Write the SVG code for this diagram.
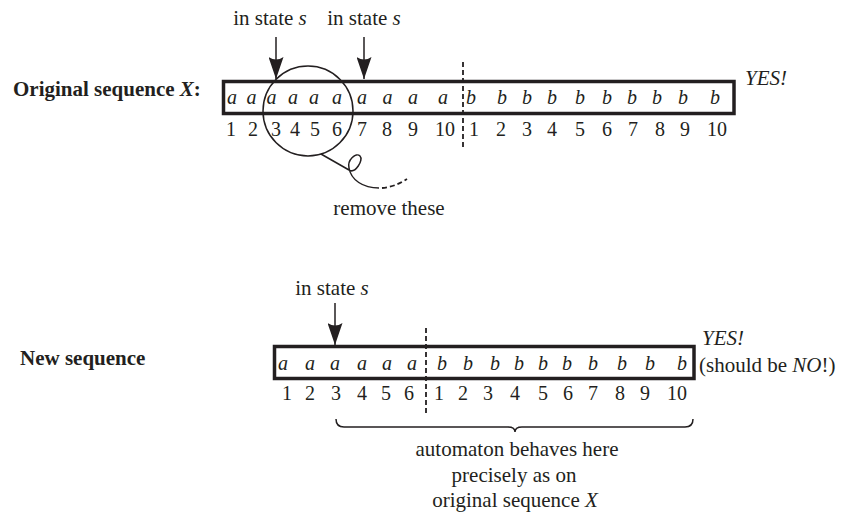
<svg xmlns="http://www.w3.org/2000/svg" width="851" height="513" viewBox="0 0 851 513">
<style>
text{font-family:"Liberation Serif","Times New Roman",serif;font-size:20px;fill:#231f20}
.c{text-anchor:middle}
.i{font-style:italic}
.b{font-weight:bold;font-size:21px}
.lbl{font-size:21px}
.box{fill:none;stroke:#231f20;stroke-width:3.5}
.ln{fill:none;stroke:#231f20;stroke-width:1.5}
.dash{fill:none;stroke:#231f20;stroke-width:1.8;stroke-dasharray:5 3}
</style>
<defs>
<marker id="ah" viewBox="0 0 22 15" refX="22" refY="7.5" markerWidth="22" markerHeight="15" markerUnits="userSpaceOnUse" orient="auto">
<path d="M0,0 L22,7.5 L0,15 Q5,7.5 0,0 Z" fill="#231f20"/>
</marker>
</defs>

<g id="top-label"><text class="b" x="13" y="96">Original sequence <tspan font-style="italic">X</tspan>:</text></g>

<g id="top-sequence">
<rect class="box" x="223.5" y="81.5" width="510.5" height="32"/>
<g class="i c">
<text x="232" y="104">a</text><text x="251.5" y="104">a</text><text x="271.5" y="104">a</text><text x="293" y="104">a</text><text x="314" y="104">a</text><text x="337" y="104">a</text><text x="362" y="104">a</text><text x="387.5" y="104">a</text><text x="413" y="104">a</text><text x="443" y="104">a</text>
<text x="471" y="104">b</text><text x="502" y="104">b</text><text x="527" y="104">b</text><text x="552" y="104">b</text><text x="580" y="104">b</text><text x="607" y="104">b</text><text x="632" y="104">b</text><text x="657" y="104">b</text><text x="683" y="104">b</text><text x="715" y="104">b</text>
</g>
<g class="c">
<text x="231" y="136">1</text><text x="253" y="136">2</text><text x="276" y="136">3</text><text x="295" y="136">4</text><text x="315" y="136">5</text><text x="337" y="136">6</text><text x="362" y="136">7</text><text x="387" y="136">8</text><text x="413" y="136">9</text><text x="445" y="136">10</text>
<text x="474" y="136">1</text><text x="501" y="136">2</text><text x="527" y="136">3</text><text x="552" y="136">4</text><text x="580" y="136">5</text><text x="607" y="136">6</text><text x="633" y="136">7</text><text x="660" y="136">8</text><text x="685" y="136">9</text><text x="717" y="136">10</text>
</g>
</g>

<g id="top-yes"><text class="i lbl" x="745" y="85">YES!</text></g>

<g id="top-state1"><text class="c lbl" x="270" y="25">in state <tspan font-style="italic">s</tspan></text></g>
<g id="top-state2"><text class="c lbl" x="364" y="25">in state <tspan font-style="italic">s</tspan></text></g>

<g id="remove-circle">
<circle class="ln" cx="308" cy="111" r="45"/>
<path class="ln" d="M321,154 L349,170 C355,174 364,160 360,156 C356,152 347,160 349,168 C351,180 363,188 379,188"/>
<path class="dash" d="M382,188 Q395,187 407,179"/>
</g>
<g id="remove-label"><text class="c lbl" x="389" y="215">remove these</text></g>

<g id="bottom-label"><text class="b" x="20" y="365">New sequence</text></g>

<g id="bottom-sequence">
<rect class="box" x="274.5" y="346.5" width="419.5" height="32"/>
<g class="i c">
<text x="283" y="370">a</text><text x="310" y="370">a</text><text x="335" y="370">a</text><text x="362" y="370">a</text><text x="387" y="370">a</text><text x="412" y="370">a</text>
<text x="442" y="370">b</text><text x="468" y="370">b</text><text x="495" y="370">b</text><text x="519" y="370">b</text><text x="543" y="370">b</text><text x="567" y="370">b</text><text x="593" y="370">b</text><text x="622" y="370">b</text><text x="650" y="370">b</text><text x="682" y="370">b</text>
</g>
<g class="c">
<text x="287" y="400">1</text><text x="310" y="400">2</text><text x="336" y="400">3</text><text x="362" y="400">4</text><text x="386" y="400">5</text><text x="409" y="400">6</text>
<text x="439" y="400">1</text><text x="463" y="400">2</text><text x="488" y="400">3</text><text x="515" y="400">4</text><text x="543" y="400">5</text><text x="568" y="400">6</text><text x="593" y="400">7</text><text x="620" y="400">8</text><text x="645" y="400">9</text><text x="677" y="400">10</text>
</g>
</g>

<g id="bottom-yes">
<text class="i lbl" x="702" y="345">YES!</text>
<text class="lbl" x="699" y="372">(should be <tspan font-style="italic">NO</tspan>!)</text>
</g>

<g id="bottom-state"><text class="c lbl" x="332" y="295">in state <tspan font-style="italic">s</tspan></text></g>

<g id="brace-label">
<text class="c lbl" x="517" y="456">automaton behaves here</text>
<text class="c lbl" x="514" y="482">precisely as on</text>
<text class="c lbl" x="515" y="507">original sequence <tspan font-style="italic">X</tspan></text>
</g>

<g id="connectors">
<line class="ln" x1="276" y1="37" x2="276" y2="79" marker-end="url(#ah)"/>
<line class="ln" x1="364" y1="37" x2="364" y2="79" marker-end="url(#ah)"/>
<line class="ln" x1="335" y1="303" x2="335" y2="345" marker-end="url(#ah)"/>
<line class="dash" x1="463" y1="62" x2="463" y2="147"/>
<line class="dash" x1="426" y1="328" x2="426" y2="413"/>
<path class="ln" stroke-width="1.8" d="M336,419 Q336,427 344,427 L508,427 Q515,427 515,432 Q515,427 522,427 L685,427 Q693,427 693,419"/>
</g>
</svg>
